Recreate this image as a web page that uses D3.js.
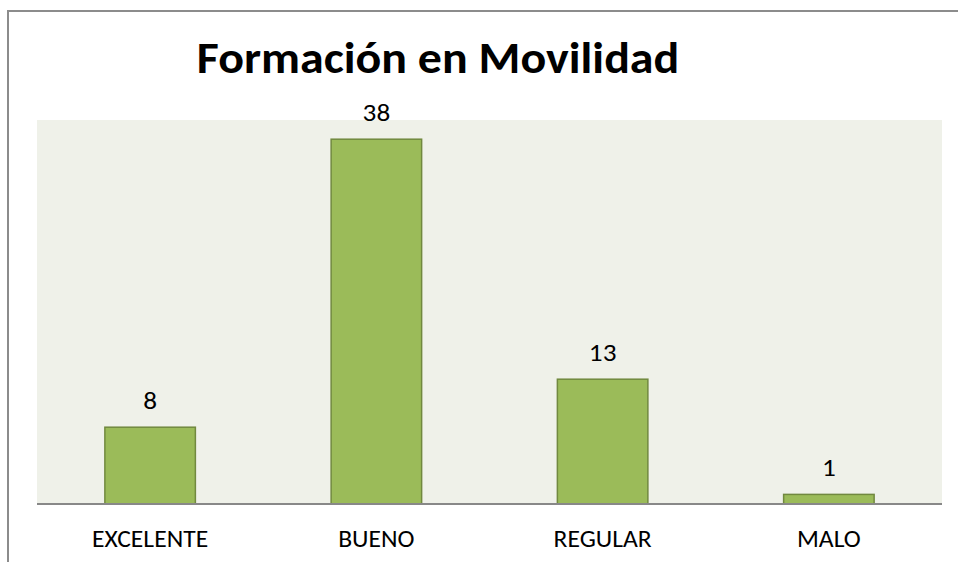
<!DOCTYPE html>
<html>
<head>
<meta charset="utf-8">
<script src="https://cdn.jsdelivr.net/npm/d3@7"></script>
<style>
  body { margin: 0; background: #fff; }
  svg { display: block; }
  svg text { font-family: Carlito, Calibri, Lato, sans-serif; }
</style>
</head>
<body>
<div id="chart"></div>
<script>
var width = 958;
var height = 562;

var categories = ["EXCELENTE", "BUENO", "REGULAR", "MALO"];
var values = [8, 38, 13, 1];
var title = "Formación en Movilidad";

var plot = {left: 37, right: 942, top: 120, bottom: 504};
// the reference picture is a little wider than tall, so glyphs get stretched
var stretch = 1.09;

var svg = d3.select("#chart")
    .append("svg")
    .attr("width", width)
    .attr("height", height);

// outer frame (only top and left edges show)
svg.append("path")
    .attr("d", "M8,570 L8,11 L960,11")
    .attr("fill", "none")
    .attr("stroke", "#8c8c8c")
    .attr("stroke-width", 2);

svg.append("rect")
    .attr("x", plot.left)
    .attr("y", plot.top)
    .attr("width", plot.right - plot.left)
    .attr("height", plot.bottom - plot.top)
    .attr("fill", "#eff1e9");

var x = d3.scaleBand()
    .domain(categories)
    .range([plot.left, plot.right])
    .paddingInner(0.6)
    .paddingOuter(0.3);

var y = d3.scaleLinear()
    .domain([0, 40])
    .range([plot.bottom, plot.top]);

svg.append("g")
    .selectAll("rect")
    .data(values)
    .enter().append("rect")
    .attr("x", function (d, i) { return x(categories[i]); })
    .attr("y", function (d) { return y(d); })
    .attr("width", x.bandwidth())
    .attr("height", function (d) { return y(0) - y(d); })
    .attr("fill", "#9bbb59")
    .attr("stroke", "#71893f")
    .attr("stroke-width", 1.5);

svg.append("g")
    .selectAll("text")
    .data(values)
    .enter().append("text")
    .attr("transform", function (d, i) {
        var cx = x(categories[i]) + x.bandwidth() / 2;
        return "translate(" + cx + "," + (y(d) - 18) + ") scale(" + stretch + ",1)";
    })
    .attr("text-anchor", "middle")
    .attr("font-size", 25)
    .attr("fill", "#000")
    .text(function (d) { return d; });

// category axis
var axis = svg.append("g")
    .attr("transform", "translate(0," + plot.bottom + ")")
    .call(d3.axisBottom(x).tickSize(0).tickPadding(0));
axis.attr("font-family", null).attr("font-size", null);
axis.select(".domain")
    .attr("d", "M" + plot.left + ",0H" + plot.right)
    .attr("stroke", "#888")
    .attr("stroke-width", 2);
axis.selectAll(".tick text")
    .attr("y", null)
    .attr("dy", null)
    .attr("transform", "translate(0,43) scale(" + stretch + ",1)")
    .attr("font-size", 23.5)
    .attr("fill", "#000");

svg.append("text")
    .attr("transform", "translate(438,73) scale(" + stretch + ",1)")
    .attr("text-anchor", "middle")
    .attr("font-size", 44)
    .attr("font-weight", "bold")
    .attr("fill", "#000")
    .text(title);
</script>
</body>
</html>
